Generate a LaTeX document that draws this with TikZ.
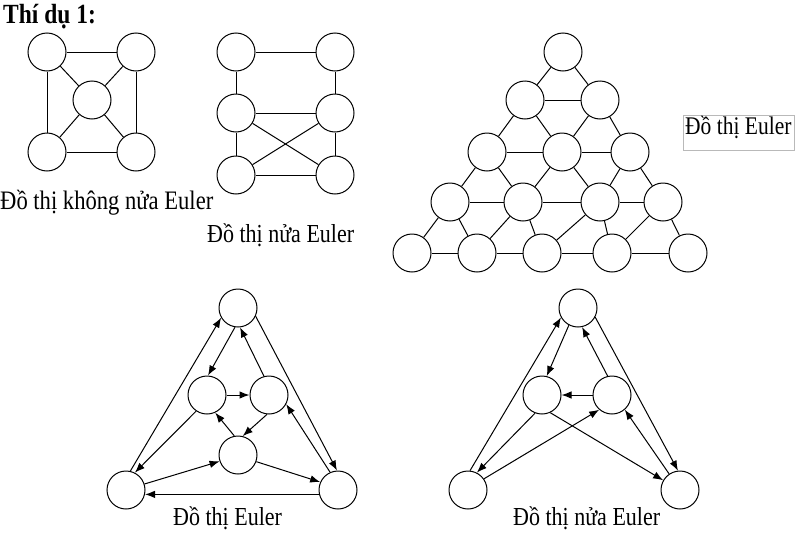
\documentclass[tikz,border=0pt]{standalone}
\usepackage{fontspec}
\usepackage{graphicx}
\setmainfont{Liberation Serif}
\usetikzlibrary{arrows.meta}
\newcommand\tallt[1]{\scalebox{1}[1.18]{#1}}
\begin{document}
\begin{tikzpicture}[x=1pt,y=-1pt,
  vtx/.style={circle,draw,line width=1pt,minimum size=38pt,inner sep=0pt},
  edge/.style={line width=1pt},
  arc/.style={line width=1pt,-{Latex[length=10pt,width=7.5pt]}},
  lbl/.style={font=\fontsize{22}{26}\selectfont,inner sep=0pt,anchor=base west}]
\useasboundingbox (0,0) rectangle (800,533);

% title
\node[lbl,font=\fontsize{23.5}{26}\selectfont\bfseries] (title) at (3,23) {\tallt{Thí dụ 1:}};

% graph 1
\node[vtx] (a1) at (47,52) {};
\node[vtx] (a2) at (136,52) {};
\node[vtx] (a3) at (92,100) {};
\node[vtx] (a4) at (47,152) {};
\node[vtx] (a5) at (136,152) {};
\draw[edge] (a1) -- (a2);
\draw[edge] (a1) -- (a4);
\draw[edge] (a2) -- (a5);
\draw[edge] (a4) -- (a5);
\draw[edge] (a1) -- (a3);
\draw[edge] (a2) -- (a3);
\draw[edge] (a4) -- (a3);
\draw[edge] (a5) -- (a3);
\node[lbl,font=\fontsize{22.6}{26}\selectfont] (l1) at (0,209) {\tallt{Đồ thị không nửa Euler}};

% graph 2
\node[vtx] (b1) at (236,52) {};
\node[vtx] (b2) at (335,52) {};
\node[vtx] (b3) at (236,113) {};
\node[vtx] (b4) at (335,113) {};
\node[vtx] (b5) at (236,175) {};
\node[vtx] (b6) at (335,175) {};
\draw[edge] (b1) -- (b2);
\draw[edge] (b1) -- (b3);
\draw[edge] (b2) -- (b4);
\draw[edge] (b3) -- (b4);
\draw[edge] (b3) -- (b5);
\draw[edge] (b4) -- (b6);
\draw[edge] (b5) -- (b6);
\draw[edge] (b3) -- (b6);
\draw[edge] (b4) -- (b5);
\node[lbl] (l2) at (207,242) {\tallt{Đồ thị nửa Euler}};

% graph 3 (triangular grid)
\node[vtx] (c11) at (563,52) {};
\node[vtx] (c21) at (525,100) {};
\node[vtx] (c22) at (600,100) {};
\node[vtx] (c31) at (487,152) {};
\node[vtx] (c32) at (562,152) {};
\node[vtx] (c33) at (630,152) {};
\node[vtx] (c41) at (450,202) {};
\node[vtx] (c42) at (523,202) {};
\node[vtx] (c43) at (600,202) {};
\node[vtx] (c44) at (663,202) {};
\node[vtx] (c51) at (412,253) {};
\node[vtx] (c52) at (477,253) {};
\node[vtx] (c53) at (542,253) {};
\node[vtx] (c54) at (612,253) {};
\node[vtx] (c55) at (688,253) {};
\foreach \u/\v in {c11/c21,c11/c22,c21/c22,
  c21/c31,c21/c32,c22/c32,c22/c33,c31/c32,c32/c33,
  c31/c41,c31/c42,c32/c42,c32/c43,c33/c43,c33/c44,c41/c42,c42/c43,c43/c44,
  c41/c51,c41/c52,c42/c52,c42/c53,c43/c53,c43/c54,c44/c54,c44/c55,
  c51/c52,c52/c53,c53/c54,c54/c55}
  \draw[edge] (\u) -- (\v);
\node[draw=gray!55,line width=0.8pt,minimum width=111pt,minimum height=35pt,
  inner sep=0pt,anchor=north west] (box) at (683,115) {};
\node[lbl,font=\fontsize{21.5}{26}\selectfont] (l3) at (685,134) {\tallt{Đồ thị Euler}};

% graph 4 (directed Euler)
\node[vtx] (d1) at (238,308) {};
\node[vtx] (d2) at (207,395) {};
\node[vtx] (d3) at (269,395) {};
\node[vtx] (d4) at (238,455) {};
\node[vtx] (d5) at (126,490) {};
\node[vtx] (d6) at (338,490) {};
\draw[arc] (d5.77) -- (d1.210);
\draw[arc] (d1.335) -- (d6.93);
\draw[arc] (d1.261) -- (d2.87);
\draw[arc] (d3.105) -- (d1.276);
\draw[arc] (d2) -- (d3);
\draw[arc] (d3.264) -- (d4.76);
\draw[arc] (d4.101) -- (d2.295);
\draw[arc] (d2.236) -- (d5.63);
\draw[arc] (d5.18) -- (d4.199);
\draw[arc] (d4.340) -- (d6.156);
\draw[arc] (d6.193) -- (d5.347);
\draw[arc] (d6.114) -- (d3.332);
\node[lbl] (l4) at (173,525) {\tallt{Đồ thị Euler}};

% graph 5 (directed semi-Euler)
\node[vtx] (e1) at (578,308) {};
\node[vtx] (e2) at (542,395) {};
\node[vtx] (e3) at (612,395) {};
\node[vtx] (e5) at (468,490) {};
\node[vtx] (e6) at (680,490) {};
\draw[arc] (e5.84) -- (e1.209);
\draw[arc] (e1.332) -- (e6.96);
\draw[arc] (e1.242) -- (e2.76);
\draw[arc] (e3.103) -- (e1.282);
\draw[arc] (e3) -- (e2);
\draw[arc] (e2.249) -- (e5.63);
\draw[arc] (e5.35) -- (e3.229);
\draw[arc] (e2.295) -- (e6.150);
\draw[arc] (e6.124) -- (e3.311);
\node[lbl] (l5) at (513,525) {\tallt{Đồ thị nửa Euler}};
\end{tikzpicture}
\end{document}
